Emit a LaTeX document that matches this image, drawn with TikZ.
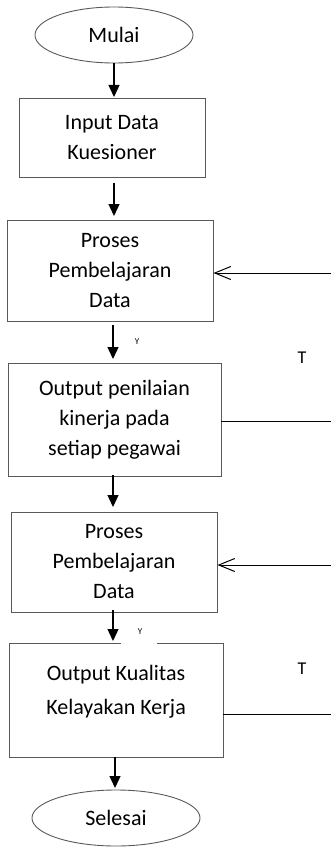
\documentclass[tikz,border=0pt]{standalone}
\usepackage{fontspec}
\setmainfont{Carlito}
\usetikzlibrary{arrows.meta,shapes.geometric}
\begin{document}
\begin{tikzpicture}[x=1pt,y=-1pt,
  box/.style={draw=black!65,line width=0.9pt,inner sep=0pt,align=center,
    font=\fontsize{22}{30}\selectfont},
  plain/.style={inner sep=0pt,align=center,font=\fontsize{22}{34}\selectfont},
  term/.style={draw=black!65,line width=0.9pt,ellipse,inner sep=0pt,
    font=\fontsize{22}{24}\selectfont},
  flow/.style={line width=1.3pt,-{Triangle[width=11pt,length=12pt]}},
  back/.style={line width=1pt,-{Straight Barb[width=13pt,length=16pt,line width=1pt]}},
  tie/.style={line width=1pt},
  tinylabel/.style={font=\fontsize{9}{9}\selectfont},
  flaglabel/.style={font=\fontsize{18}{18}\selectfont}]
\useasboundingbox (0,0) rectangle (331,848);
% terminals
\node[term,minimum width=158pt,minimum height=56pt] (start) at (114,35) {Mulai};
\node[term,minimum width=168pt,minimum height=56pt] (stop) at (116,818) {Selesai};
% process boxes
\node[box,minimum width=186pt,minimum height=79pt] (input) at (112,137.5) {Input Data\\Kuesioner};
\node[box,minimum width=206pt,minimum height=101pt] (learnA) at (110,270.5) {Proses\\Pembelajaran\\Data};
\node[box,minimum width=213pt,minimum height=113pt] (scoreA) at (114.5,419.5) {Output penilaian\\kinerja pada\\setiap pegawai};
\node[box,minimum width=206pt,minimum height=100pt] (learnB) at (114,562) {Proses\\Pembelajaran\\Data};
\node[box,minimum width=214pt,minimum height=114pt] (scoreB) at (116,700) {};
\node[plain] (scoreBtext) at (116,692) {Output Kualitas\\Kelayakan Kerja};
% connectors between steps
\coordinate (s1) at (114,97);
\coordinate (a1) at (114,183);
\coordinate (s2) at (114,216);
\coordinate (a2) at (113,325);
\coordinate (s3) at (113,359);
\coordinate (a3) at (113,475);
\coordinate (s4) at (113,507);
\coordinate (a4) at (113,610);
\coordinate (s5) at (113,641);
\coordinate (a5) at (115,757);
\coordinate (s6) at (115,788);
\draw[flow] (start.south) -- (s1);
\draw[flow] (a1) -- (s2);
\draw[flow] (a2) -- (s3);
\draw[flow] (a3) -- (s4);
\draw[flow] (a4) -- (s5);
\draw[flow] (a5) -- (s6);
\node[tinylabel] (yA) at (137,342) {Y};
\node[fill=white,inner sep=0pt,minimum width=36pt,minimum height=4pt] (gap) at (139,643) {};
\node[tinylabel] (yB) at (140,632) {Y};
% loop back lines
\coordinate (eA) at (331,273);
\coordinate (eB) at (331,421);
\coordinate (eC) at (331,565);
\coordinate (eD) at (331,714);
\draw[back] (eA) -- (eA -| learnA.east);
\draw[tie] (eB -| scoreA.east) -- (eB);
\draw[back] (eC) -- (eC -| learnB.east);
\draw[tie] (eD -| scoreB.east) -- (eD);
\node[flaglabel] (tA) at (302,358) {T};
\node[flaglabel] (tB) at (302,669) {T};
\end{tikzpicture}
\end{document}
